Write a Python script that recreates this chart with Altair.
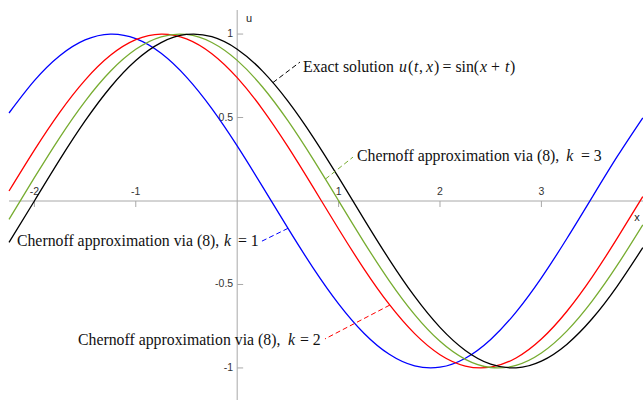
import altair as alt
import pandas as pd

# Sample positions along x (shared by all four curves)
x_grid = [-2.25, -2.0, -1.75, -1.5, -1.25, -1.0, -0.75, -0.5, -0.25, 0.0,
          0.25, 0.5, 0.75, 1.0, 1.25, 1.5, 1.75, 2.0, 2.25, 2.5,
          2.75, 3.0, 3.25, 3.5, 3.75, 4.0]

# Exact solution u(t, x) = sin(x + t)
exact = [-0.2474, 0.0, 0.2474, 0.4794, 0.6816, 0.8415, 0.9490, 0.9975, 0.9840, 0.9093,
         0.7781, 0.5985, 0.3817, 0.1411, -0.1082, -0.3508, -0.5716, -0.7568, -0.8950, -0.9775,
         -0.9993, -0.9589, -0.8589, -0.7055, -0.5079, -0.2794]

# Chernoff approximations, k = 1, 2, 3
k1 = [0.5271, 0.7207, 0.8700, 0.9648, 0.9999, 0.9728, 0.8850, 0.7423, 0.5535, 0.3303,
      0.0865, -0.1627, -0.4018, -0.6159, -0.7918, -0.9183, -0.9877, -0.9957, -0.9418, -0.8295,
      -0.6655, -0.4602, -0.2262, 0.0218, 0.2685, 0.4985]
k2 = [0.0600, 0.3051, 0.5312, 0.7243, 0.8724, 0.9661, 0.9999, 0.9715, 0.8826, 0.7390,
      0.5493, 0.3256, 0.0815, -0.1676, -0.4063, -0.6198, -0.7946, -0.9206, -0.9884, -0.9952,
      -0.9402, -0.8267, -0.6617, -0.4557, -0.2213, 0.0268]
k3 = [-0.1098, 0.1395, 0.3802, 0.5972, 0.7771, 0.9086, 0.9837, 0.9976, 0.9495, 0.8424,
      0.6828, 0.4808, 0.2489, 0.0016, -0.2458, -0.4781, -0.6805, -0.8406, -0.9484, -0.9974,
      -0.9843, -0.9101, -0.7792, -0.5997, -0.3832, -0.1427]

series_names = ["k1", "k2", "k3", "exact"]
series_values = [k1, k2, k3, exact]
series_colors = ["#0000ff", "#ff0000", "#77ac30", "#000000"]

x_ticks = [-2, -1, 1, 2, 3]
x_tick_labels = ["-2", "-1", "1", "2", "3"]
y_ticks = [-1, -0.5, 0.5, 1]
y_tick_labels = ["-1", "-0.5", "0.5", "1"]

X_DOMAIN = [-2.339, 4.002]
Y_DOMAIN = [-1.192, 1.204]
xs = alt.Scale(domain=X_DOMAIN, nice=False, zero=False)
ys = alt.Scale(domain=Y_DOMAIN, nice=False, zero=False)

AXIS_GRAY = "#a8a8a8"
SANS = "Liberation Sans"
SERIF = "Liberation Serif"
ANN_SIZE = 15.8

curves = pd.DataFrame(
    [{"x": xv, "u": yv, "series": name, "order": i}
     for name, vals in zip(series_names, series_values)
     for i, (xv, yv) in enumerate(zip(x_grid, vals))]
)

lines = alt.Chart(curves).mark_line(strokeWidth=1.3, interpolate="natural", clip=True).encode(
    x=alt.X("x:Q", scale=xs, axis=None),
    y=alt.Y("u:Q", scale=ys, axis=None),
    color=alt.Color("series:N", scale=alt.Scale(domain=series_names, range=series_colors), legend=None),
    detail="series:N",
    order="order:Q",
)

# Axis lines through the origin
axis_lines = pd.DataFrame({
    "x": [-2.25, 0.0], "x2": [X_DOMAIN[1], 0.0],
    "y": [0.0, Y_DOMAIN[0]], "y2": [0.0, 1.144],
})
axes = alt.Chart(axis_lines).mark_rule(color=AXIS_GRAY, strokeWidth=1).encode(
    x=alt.X("x:Q", scale=xs, axis=None), x2="x2:Q",
    y=alt.Y("y:Q", scale=ys, axis=None), y2="y2:Q",
)

xt = pd.DataFrame({"x": x_ticks, "label": x_tick_labels, "y": 0.0, "y2": -0.036})
x_tick_marks = alt.Chart(xt).mark_rule(color=AXIS_GRAY, strokeWidth=1).encode(
    x=alt.X("x:Q", scale=xs, axis=None),
    y=alt.Y("y:Q", scale=ys, axis=None), y2="y2:Q",
)
x_tick_text = alt.Chart(xt).mark_text(
    font=SANS, fontSize=10.5, color="#333333", align="center", baseline="middle", dy=-9
).encode(
    x=alt.X("x:Q", scale=xs, axis=None),
    y=alt.Y("y:Q", scale=ys, axis=None),
    text="label:N",
)

yt = pd.DataFrame({"y": y_ticks, "label": y_tick_labels, "x": 0.0, "x2": 0.059})
y_tick_marks = alt.Chart(yt).mark_rule(color=AXIS_GRAY, strokeWidth=1).encode(
    x=alt.X("x:Q", scale=xs, axis=None), x2="x2:Q",
    y=alt.Y("y:Q", scale=ys, axis=None),
)
y_tick_text = alt.Chart(yt).mark_text(
    font=SANS, fontSize=10.5, color="#333333", align="right", baseline="middle", dx=-4
).encode(
    x=alt.X("x:Q", scale=xs, axis=None),
    y=alt.Y("y:Q", scale=ys, axis=None),
    text="label:N",
)

axis_titles = pd.DataFrame({"x": [3.943, 0.116], "y": [-0.102, 1.090], "label": ["x", "u"]})
titles = alt.Chart(axis_titles).mark_text(
    font=SANS, fontSize=11, color="#222222", align="center", baseline="middle"
).encode(
    x=alt.X("x:Q", scale=xs, axis=None),
    y=alt.Y("y:Q", scale=ys, axis=None),
    text="label:N",
)

# Dashed leader lines from each curve to its caption
leaders = pd.DataFrame({
    "series": ["exact", "k3", "k1", "k2"],
    "x": [0.353, 0.870, 0.501, 1.505],
    "y": [0.7096, 0.1313, -0.1637, -0.6235],
    "x2": [0.619, 1.142, 0.225, 0.866],
    "y2": [0.832, 0.263, -0.246, -0.826],
})
leader_lines = alt.Chart(leaders).mark_rule(strokeWidth=1, strokeDash=[5, 3]).encode(
    x=alt.X("x:Q", scale=xs, axis=None), x2="x2:Q",
    y=alt.Y("y:Q", scale=ys, axis=None), y2="y2:Q",
    color=alt.Color("series:N", scale=alt.Scale(domain=series_names, range=series_colors), legend=None),
)

# Captions, split into upright and italic (math) pieces
captions = pd.DataFrame([
    # exact solution
    {"text": "Exact solution", "x": 0.649, "y": 0.772, "italic": False},
    {"text": "u", "x": 1.596, "y": 0.772, "italic": True},
    {"text": "(", "x": 1.685, "y": 0.772, "italic": False},
    {"text": "t", "x": 1.744, "y": 0.772, "italic": True},
    {"text": ",", "x": 1.793, "y": 0.772, "italic": False},
    {"text": "x", "x": 1.862, "y": 0.772, "italic": True},
    {"text": ")", "x": 1.941, "y": 0.772, "italic": False},
    {"text": "= sin(", "x": 2.025, "y": 0.772, "italic": False},
    {"text": "x", "x": 2.395, "y": 0.772, "italic": True},
    {"text": "+", "x": 2.503, "y": 0.772, "italic": False},
    {"text": "t", "x": 2.641, "y": 0.772, "italic": True},
    {"text": ")", "x": 2.690, "y": 0.772, "italic": False},
    # k = 3
    {"text": "Chernoff approximation via (8),", "x": 1.181, "y": 0.241, "italic": False},
    {"text": "k", "x": 3.245, "y": 0.241, "italic": True},
    {"text": "= 3", "x": 3.390, "y": 0.241, "italic": False},
    # k = 1
    {"text": "Chernoff approximation via (8),", "x": -2.172, "y": -0.269, "italic": False},
    {"text": "k", "x": -0.130, "y": -0.269, "italic": True},
    {"text": "= 1", "x": 0.008, "y": -0.269, "italic": False},
    # k = 2
    {"text": "Chernoff approximation via (8),", "x": -1.570, "y": -0.862, "italic": False},
    {"text": "k", "x": 0.501, "y": -0.862, "italic": True},
    {"text": "= 2", "x": 0.619, "y": -0.862, "italic": False},
])

upright = alt.Chart(captions).transform_filter("!datum.italic").mark_text(
    font=SERIF, fontSize=ANN_SIZE, color="#111111", align="left", baseline="alphabetic"
).encode(
    x=alt.X("x:Q", scale=xs, axis=None),
    y=alt.Y("y:Q", scale=ys, axis=None),
    text="text:N",
)
italic = alt.Chart(captions).transform_filter("datum.italic").mark_text(
    font=SERIF, fontSize=ANN_SIZE, fontStyle="italic", color="#111111", align="left", baseline="alphabetic"
).encode(
    x=alt.X("x:Q", scale=xs, axis=None),
    y=alt.Y("y:Q", scale=ys, axis=None),
    text="text:N",
)

chart = alt.layer(
    axes, x_tick_marks, y_tick_marks, x_tick_text, y_tick_text, titles,
    lines, leader_lines, upright, italic,
).properties(
    width=643, height=400, padding=0,
    autosize=alt.AutoSizeParams(type="none"),
    background="white",
).configure_view(stroke=None)

chart.save("out.html", embed_options={"renderer": "svg", "actions": False})
